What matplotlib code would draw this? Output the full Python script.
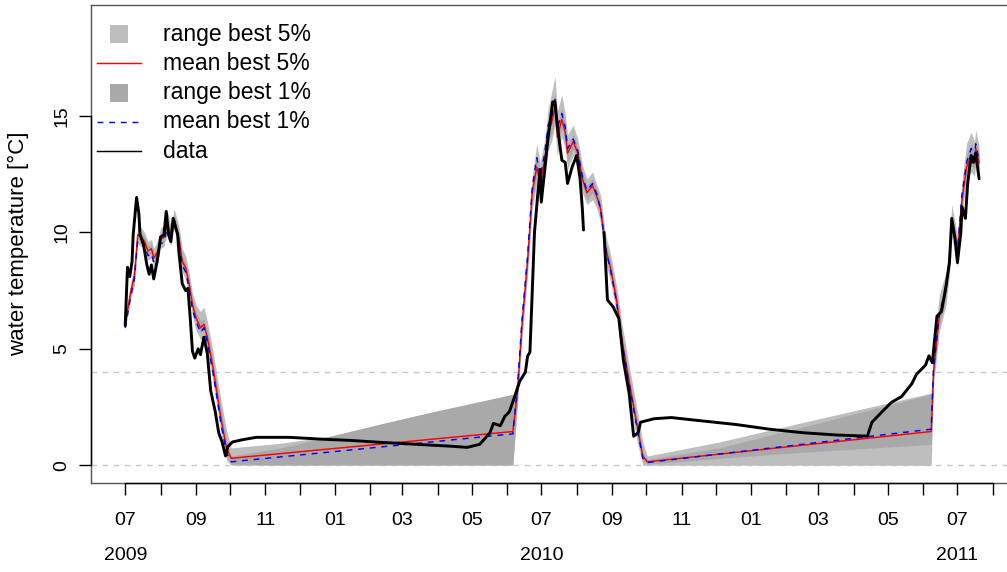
import numpy as np
import pandas as pd
import matplotlib
matplotlib.use("Agg")
import matplotlib.pyplot as plt
from matplotlib.lines import Line2D
from matplotlib.patches import Rectangle
import matplotlib.transforms as mtransforms

plt.rcParams["font.family"] = ["Liberation Sans", "DejaVu Sans"]

# ---------------- model means (best 5% / best 1%) ----------------
mean_dates = [
    "2009-07-01", "2009-07-06", "2009-07-09", "2009-07-12", "2009-07-15", "2009-07-18",
    "2009-07-21", "2009-07-24", "2009-07-26", "2009-07-30", "2009-08-01", "2009-08-04",
    "2009-08-07", "2009-08-10", "2009-08-13", "2009-08-17", "2009-08-20", "2009-08-23",
    "2009-08-26", "2009-08-29", "2009-09-01", "2009-09-05", "2009-09-08", "2009-09-11",
    "2009-09-16", "2009-09-23", "2009-09-28", "2009-10-02",
    "2010-06-06", "2010-06-10", "2010-06-14", "2010-06-19", "2010-06-23", "2010-06-27",
    "2010-06-30", "2010-07-04", "2010-07-07", "2010-07-10", "2010-07-13", "2010-07-15",
    "2010-07-19", "2010-07-22", "2010-07-24", "2010-07-29", "2010-08-02", "2010-08-06",
    "2010-08-10", "2010-08-15", "2010-08-19", "2010-08-22", "2010-08-26", "2010-08-31",
    "2010-09-05", "2010-09-10", "2010-09-16", "2010-09-23", "2010-09-28", "2010-10-02",
    "2011-06-08", "2011-06-10", "2011-06-15", "2011-06-21", "2011-06-24", "2011-06-26",
    "2011-07-01", "2011-07-05", "2011-07-09", "2011-07-13", "2011-07-16", "2011-07-17",
    "2011-07-20",
]
mean_best5 = [
    6.05, 7.5, 8.1, 9.9, 9.8, 9.6, 9.2, 9.3, 8.9, 9.2, 9.7, 9.8, 10.4, 9.8, 10.6, 9.8,
    8.75, 8.5, 7.8, 6.9, 6.35, 5.9, 6.05, 5.5, 4.2, 2.0, 0.7, 0.3,
    1.45, 3.1, 6.0, 8.8, 11.7, 12.8, 12.1, 13.1, 14.3, 14.7, 15.4, 14.1, 14.85, 14.3,
    13.4, 13.9, 13.4, 12.3, 11.7, 12.0, 11.5, 11.0, 9.4, 8.4, 7.1, 5.3, 3.6, 1.7, 0.4, 0.15,
    1.45, 4.0, 6.4, 7.5, 8.8, 10.4, 9.1, 11.4, 12.8, 13.3, 13.0, 13.6, 13.0,
]
mean_best1 = [
    5.9, 7.3, 8.0, 9.7, 9.6, 9.4, 9.0, 9.1, 8.7, 9.0, 9.5, 9.6, 10.2, 9.6, 10.5, 9.6,
    8.6, 8.3, 7.6, 6.7, 6.2, 5.7, 5.9, 5.3, 4.0, 1.8, 0.5, 0.15,
    1.35, 3.3, 6.2, 9.0, 11.9, 13.2, 12.4, 13.4, 14.6, 14.9, 15.7, 14.5, 15.1, 14.5,
    13.6, 14.0, 13.5, 12.4, 11.8, 12.1, 11.6, 11.0, 9.4, 8.3, 7.0, 5.2, 3.5, 1.6, 0.3, 0.12,
    1.55, 4.1, 6.5, 7.6, 8.9, 10.6, 9.2, 11.6, 13.0, 13.6, 13.2, 13.8, 13.1,
]

# ---------------- model ranges ----------------
range_dates = [
    "2009-07-01", "2009-07-06", "2009-07-09", "2009-07-12", "2009-07-15", "2009-07-18",
    "2009-07-21", "2009-07-24", "2009-07-26", "2009-07-30", "2009-08-01", "2009-08-04",
    "2009-08-07", "2009-08-10", "2009-08-13", "2009-08-17", "2009-08-20", "2009-08-23",
    "2009-08-26", "2009-08-29", "2009-09-01", "2009-09-05", "2009-09-08", "2009-09-11",
    "2009-09-16", "2009-09-23", "2009-09-28", "2009-10-02",
    "2009-11-15", "2009-12-28", "2010-02-12", "2010-03-28",
    "2010-06-06", "2010-06-10", "2010-06-14", "2010-06-19", "2010-06-23", "2010-06-27",
    "2010-06-30", "2010-07-04", "2010-07-07", "2010-07-10", "2010-07-13", "2010-07-15",
    "2010-07-19", "2010-07-22", "2010-07-24", "2010-07-29", "2010-08-02", "2010-08-06",
    "2010-08-10", "2010-08-15", "2010-08-19", "2010-08-22", "2010-08-26", "2010-08-31",
    "2010-09-05", "2010-09-10", "2010-09-16", "2010-09-23", "2010-09-28", "2010-10-02",
    "2010-12-04", "2011-02-12",
    "2011-06-08", "2011-06-10", "2011-06-15", "2011-06-21", "2011-06-24", "2011-06-26",
    "2011-07-01", "2011-07-05", "2011-07-09", "2011-07-13", "2011-07-16", "2011-07-17",
    "2011-07-20",
]
range5_upper = [
    6.3, 7.9, 8.6, 10.3, 10.2, 10.0, 9.6, 9.7, 9.3, 9.7, 10.2, 10.3, 10.9, 10.3, 11.0, 10.3,
    9.3, 9.0, 8.3, 7.4, 6.9, 6.6, 6.8, 6.2, 4.9, 2.8, 1.5, 0.75,
    0.95, 1.25, 1.75, 2.2,
    3.0, 3.6, 6.7, 9.5, 12.4, 13.8, 13.0, 14.0, 15.3, 16.0, 16.7, 15.2, 15.9, 15.1,
    14.2, 14.6, 14.0, 12.9, 12.3, 12.6, 12.0, 11.6, 10.0, 9.0, 7.7, 6.0, 4.3, 2.4, 1.0, 0.4,
    1.0, 1.8,
    3.1, 4.8, 7.3, 8.3, 9.6, 11.2, 9.9, 12.2, 13.8, 14.3, 13.9, 14.4, 13.7,
]
range5_lower = [
    5.8, 7.2, 7.7, 9.5, 9.4, 9.2, 8.8, 8.9, 8.5, 8.8, 9.3, 9.4, 10.0, 9.4, 10.2, 9.3,
    8.3, 8.0, 7.3, 6.4, 5.8, 5.4, 5.5, 4.9, 3.6, 1.4, 0.2, 0.0,
    0.0, 0.0, 0.0, 0.0,
    0.0, 2.5, 5.4, 8.2, 11.0, 12.1, 11.2, 12.3, 13.5, 13.9, 14.6, 13.3, 14.1, 13.6,
    12.7, 13.3, 12.8, 11.7, 11.2, 11.4, 11.0, 10.4, 8.8, 7.8, 6.5, 4.7, 3.0, 1.0, 0.0, 0.0,
    0.0, 0.0,
    0.0, 3.4, 5.7, 6.9, 8.2, 9.8, 8.5, 10.8, 12.2, 12.6, 12.4, 12.9, 12.5,
]
range1_upper = [
    6.2, 7.75, 8.4, 10.1, 10.0, 9.8, 9.4, 9.5, 9.1, 9.4, 9.9, 10.0, 10.6, 10.0, 10.8, 10.0,
    9.0, 8.7, 8.0, 7.1, 6.6, 6.2, 6.3, 5.8, 4.5, 2.4, 1.0, 0.4,
    0.75, 1.25, 1.8, 2.3,
    3.05, 3.4, 6.3, 9.1, 12.0, 13.3, 12.5, 13.6, 14.8, 15.3, 16.0, 14.6, 15.3, 14.7,
    13.8, 14.2, 13.7, 12.6, 12.0, 12.3, 11.8, 11.3, 9.7, 8.7, 7.4, 5.6, 3.9, 2.0, 0.6, 0.25,
    0.75, 1.6,
    3.05, 4.4, 6.8, 7.9, 9.2, 10.8, 9.5, 11.8, 13.3, 13.8, 13.5, 14.0, 13.3,
]
range1_lower = [
    5.9, 7.3, 7.9, 9.7, 9.6, 9.4, 9.0, 9.1, 8.7, 9.0, 9.5, 9.6, 10.2, 9.6, 10.4, 9.6,
    8.5, 8.3, 7.6, 6.7, 6.1, 5.7, 5.8, 5.2, 3.9, 1.7, 0.4, 0.05,
    0.02, 0.02, 0.02, 0.02,
    0.02, 2.8, 5.7, 8.5, 11.3, 12.5, 11.7, 12.7, 13.9, 14.2, 15.0, 13.7, 14.5, 13.9,
    13.0, 13.6, 13.1, 12.0, 11.4, 11.7, 11.2, 10.7, 9.1, 8.1, 6.8, 5.0, 3.3, 1.3, 0.2, 0.05,
    0.3, 0.55,
    0.9, 3.7, 6.0, 7.2, 8.5, 10.1, 8.8, 11.1, 12.5, 12.9, 12.7, 13.2, 12.7,
]

# ---------------- measured water temperature ----------------
data_dates = [
    "2009-07-01", "2009-07-03", "2009-07-05", "2009-07-07", "2009-07-08", "2009-07-11",
    "2009-07-13", "2009-07-14", "2009-07-17", "2009-07-20", "2009-07-22", "2009-07-24",
    "2009-07-26", "2009-07-29", "2009-08-01", "2009-08-04", "2009-08-06", "2009-08-08",
    "2009-08-10", "2009-08-12", "2009-08-16", "2009-08-17", "2009-08-20", "2009-08-23",
    "2009-08-25", "2009-08-27", "2009-08-29", "2009-08-31", "2009-09-03", "2009-09-05",
    "2009-09-08", "2009-09-11", "2009-09-14", "2009-09-18", "2009-09-21", "2009-09-24",
    "2009-09-27", "2009-09-29", "2009-10-03", "2009-10-12", "2009-10-24", "2009-11-22",
    "2009-12-21", "2010-01-14", "2010-02-12", "2010-03-14", "2010-04-12", "2010-04-27",
    "2010-05-08", "2010-05-17", "2010-05-20", "2010-05-26", "2010-05-30", "2010-06-03",
    "2010-06-08", "2010-06-10", "2010-06-12", "2010-06-17", "2010-06-19", "2010-06-21",
    "2010-06-23", "2010-06-25", "2010-06-28", "2010-06-30", "2010-07-01", "2010-07-04",
    "2010-07-07", "2010-07-11", "2010-07-13", "2010-07-15", "2010-07-19", "2010-07-22",
    "2010-07-24", "2010-07-28", "2010-08-01", "2010-08-04", "2010-08-06", "2010-08-07",
    "2010-08-16",
    "2010-08-25", "2010-08-28", "2010-09-02", "2010-09-07", "2010-09-11", "2010-09-16",
    "2010-09-20", "2010-09-24", "2010-09-26", "2010-10-08", "2010-10-23", "2010-11-20",
    "2010-12-19", "2011-01-17", "2011-02-15", "2011-03-17", "2011-04-13", "2011-04-17",
    "2011-04-26", "2011-05-04", "2011-05-13", "2011-05-22", "2011-05-26", "2011-06-03",
    "2011-06-06", "2011-06-09", "2011-06-13", "2011-06-17", "2011-06-21", "2011-06-24",
    "2011-06-26", "2011-06-29", "2011-07-01", "2011-07-04", "2011-07-05", "2011-07-08",
    "2011-07-10", "2011-07-13", "2011-07-15", "2011-07-17", "2011-07-20",
]
data_temp = [
    6.0, 8.5, 8.1, 8.75, 9.9, 11.5, 10.8, 9.9, 9.5, 8.6, 8.2, 8.6,
    8.0, 8.75, 9.8, 9.9, 10.9, 9.9, 9.6, 10.6, 9.9, 9.2, 7.8, 7.5,
    7.6, 6.35, 4.9, 4.6, 5.0, 4.75, 5.5, 4.8, 3.2, 2.3, 1.4, 1.0,
    0.4, 0.8, 1.0, 1.1, 1.2, 1.2, 1.12, 1.07, 0.98, 0.9, 0.82, 0.77,
    0.9, 1.4, 1.8, 1.7, 2.1, 2.3, 3.0, 3.3, 3.6, 4.0, 4.7, 4.85,
    7.4, 10.0, 11.7, 12.7, 11.3, 12.7, 14.1, 15.6, 15.6, 14.6, 13.1, 13.0,
    12.1, 12.8, 13.3, 12.3, 11.0, 10.1,
    np.nan,
    10.0, 7.1, 6.8, 6.3, 4.5, 3.1, 1.25, 1.4, 1.85, 2.0, 2.05, 1.9,
    1.75, 1.55, 1.4, 1.3, 1.25, 1.85, 2.3, 2.7, 2.95, 3.5, 3.9, 4.3,
    4.7, 4.4, 6.4, 6.6, 7.7, 8.7, 10.6, 9.7, 8.7, 10.0, 11.1, 10.6,
    12.1, 13.3, 13.0, 13.4, 12.3,
]

reference_levels = [0, 4]
y_ticks = [0, 5, 10, 15]
year_labels = ["2009", "2010", "2011"]
year_label_dates = ["2009-07-01", "2010-07-01", "2011-07-01"]

# ---------------- figure ----------------
W, H = 1007, 572
fig = plt.figure(figsize=(W / 100, H / 100), dpi=100)
ax_left, ax_right, ax_top, ax_bottom = 91, 1019, 5, 483
ax = fig.add_axes([ax_left / W, 1 - ax_bottom / H,
                   (ax_right - ax_left) / W, (ax_bottom - ax_top) / H])

md = pd.to_datetime(mean_dates)
rd = pd.to_datetime(range_dates)
dd = pd.to_datetime(data_dates)

LIGHT = "#bebebe"
DARK = "#a9a9a9"

for lvl in reference_levels:
    ax.axhline(lvl, color="#c8c8c8", lw=1.0, dashes=(4, 4), zorder=1)

ax.fill_between(rd, range5_lower, range5_upper, color=LIGHT, lw=0, zorder=2)
ax.fill_between(rd, range1_lower, range1_upper, color=DARK, lw=0, zorder=3)
ax.plot(md, mean_best5, color="red", lw=1.05, zorder=4)
ax.plot(md, mean_best1, color="blue", lw=1.05, dashes=(4, 4), zorder=5)
ax.plot(dd, data_temp, color="black", lw=2.1, zorder=6,
        solid_joinstyle="round", solid_capstyle="round")

ax.set_xlim(pd.Timestamp("2009-06-01"), pd.Timestamp("2011-08-24"))
ax.set_ylim(-0.76, 19.76)

# frame
for sp in ax.spines.values():
    sp.set_color("#555555")
    sp.set_linewidth(1.0)

# x axis: monthly ticks, odd months labelled
month_ticks = pd.date_range("2009-07-01", "2011-08-01", freq="MS")
ax.set_xticks(month_ticks)
ax.set_xticklabels([t.strftime("%m") if t.month % 2 == 1 else "" for t in month_ticks])
ax.tick_params(axis="x", length=8.6, width=1.0, color="black", pad=12,
               labelsize=14, direction="out")
ax.set_yticks(y_ticks)
ax.set_yticklabels([str(v) for v in y_ticks], rotation=90, va="center")
ax.tick_params(axis="y", length=8.6, width=1.0, color="black", pad=6,
               labelsize=14, direction="out")

# axis lines spanning the tick range
xline = Line2D([month_ticks[0], month_ticks[-1]], [-0.76, -0.76], color="black",
               lw=1.0, clip_on=False, zorder=10)
ax.add_line(xline)
yline = Line2D([pd.Timestamp("2009-06-01")] * 2, [y_ticks[0], y_ticks[-1]], color="black",
               lw=1.0, clip_on=False, zorder=10)
ax.add_line(yline)

# year labels below the month labels
trans = mtransforms.blended_transform_factory(ax.transData, fig.transFigure)
for lab, d in zip(year_labels, year_label_dates):
    ax.text(pd.Timestamp(d), 1 - 555 / H, lab, transform=trans, ha="center",
            va="center", fontsize=14, clip_on=False)

fig.text(18 / W, 1 - 244 / H, "water temperature [°C]", rotation=90,
         ha="center", va="center", fontsize=16)

# legend
def fx(px):
    return px / W

def fy(py):
    return 1 - py / H

rows = [34, 63, 93, 122, 151]
labels = ["range best 5%", "mean best 5%", "range best 1%", "mean best 1%", "data"]
fig.add_artist(Rectangle((fx(110), fy(43)), 18 / W, 18 / H, transform=fig.transFigure,
                         color=LIGHT, lw=0))
fig.add_artist(Line2D([fx(97), fx(141)], [fy(63)] * 2, transform=fig.transFigure,
                      color="red", lw=1.05))
fig.add_artist(Rectangle((fx(110), fy(102)), 18 / W, 18 / H, transform=fig.transFigure,
                         color=DARK, lw=0))
fig.add_artist(Line2D([fx(97), fx(141)], [fy(122)] * 2, transform=fig.transFigure,
                      color="blue", lw=1.05, dashes=(4, 4)))
fig.add_artist(Line2D([fx(97), fx(141)], [fy(151)] * 2, transform=fig.transFigure,
                      color="black", lw=1.05))
for r, lab in zip(rows, labels):
    fig.text(fx(163), fy(r), lab, ha="left", va="center", fontsize=16.5)

fig.savefig("out.png", dpi=100)
